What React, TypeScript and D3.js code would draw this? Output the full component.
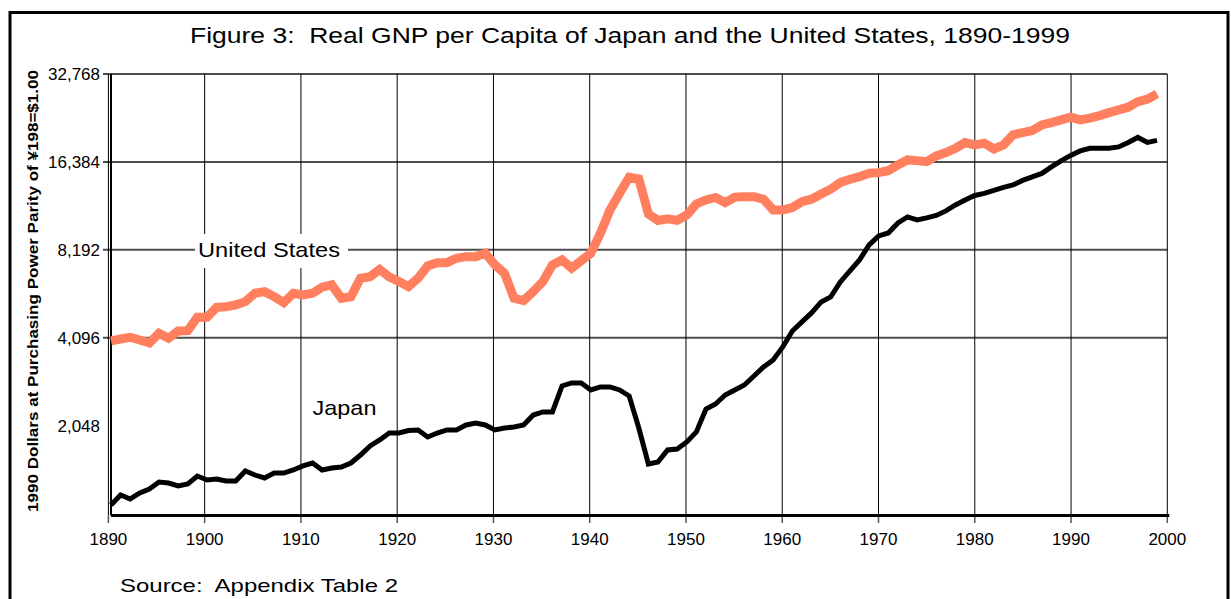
import * as d3 from 'd3';

// Real GNP per capita, 1990 dollars, one value per year from 1890 to 1999
const firstYear = 1890;
const lastYear = 1999;

const usGnp = [
  3994, 4057, 4112, 4026, 3932, 4244, 4080, 4321, 4331, 4815,
  4815, 5209, 5234, 5305, 5445, 5818, 5892, 5665, 5402, 5818,
  5741, 5818, 6100, 6212, 5593, 5665, 6548, 6631, 7020, 6616,
  6386, 6129, 6548, 7216, 7406, 7406, 7668, 7765, 7765, 7975,
  7273, 6812, 5593, 5488, 5892, 6375, 7273, 7565, 7085, 7523,
  7975, 9338, 11222, 12800, 14521, 14328, 10874, 10330, 10453, 10330,
  10788, 11765, 12141, 12383, 11887, 12403, 12462, 12462, 12210, 11222,
  11222, 11427, 11981, 12210, 12729, 13211, 13916, 14293, 14590, 14987,
  15058, 15297, 16000, 16644, 16552, 16423, 17177, 17629, 18252, 19078,
  18735, 18987, 18152, 18735, 20272, 20643, 20972, 21935, 22338, 22818,
  23308, 22818, 23126, 23604, 24169, 24690, 25221, 26357, 26862, 28006,
];

const japanGnp = [
  1096, 1186, 1149, 1205, 1243, 1313, 1303, 1273, 1293, 1377,
  1335, 1345, 1324, 1324, 1433, 1388, 1356, 1410, 1410, 1444,
  1491, 1526, 1444, 1467, 1479, 1526, 1625, 1745, 1830, 1933,
  1933, 1972, 1980, 1873, 1933, 1980, 1980, 2059, 2092, 2059,
  1980, 2011, 2027, 2059, 2228, 2282, 2282, 2801, 2868, 2868,
  2714, 2779, 2779, 2714, 2588, 2011, 1514, 1538, 1691, 1704,
  1801, 1949, 2336, 2430, 2609, 2714, 2823, 3031, 3253, 3438,
  3810, 4321, 4640, 4981, 5433, 5651, 6360, 6937, 7565, 8515,
  9141, 9360, 10128, 10619, 10371, 10536, 10746, 11134, 11672, 12141,
  12580, 12780, 13085, 13399, 13665, 14159, 14556, 14963, 15750, 16514,
  17245, 17868, 18252, 18252, 18252, 18440, 19107, 19876, 19107, 19412,
];

const yTickValues = [2048, 4096, 8192, 16384, 32768];
const yGridValues = [4096, 8192, 16384, 32768];
const xTickValues = [1890, 1900, 1910, 1920, 1930, 1940, 1950, 1960, 1970, 1980, 1990, 2000];

const titleText = 'Figure 3:  Real GNP per Capita of Japan and the United States, 1890-1999';
const yAxisTitle = '1990 Dollars at Purchasing Power Parity of \u00a5198=$1.00';
const sourceText = 'Source:  Appendix Table 2';
const usLabel = 'United States';
const japanLabel = 'Japan';

const W = 1231;
const H = 599;
const font = '"Liberation Sans", Arial, sans-serif';
const usColor = '#ff7f5f';

export default function App() {
  const x = d3.scaleLinear().domain([1890, 2000]).range([108.4, 1167.3]);
  // series are drawn a touch right of the grid, as in the original
  const xLine = d3.scaleLinear().domain([firstYear, lastYear]).range([111, 1157]);
  const y = d3.scaleLog().base(2).domain([1024, 32768]).range([513.6, 74]);

  const line = d3
    .line<number>()
    .x((_, i) => xLine(firstYear + i))
    .y((d) => y(d));

  const fmt = d3.format(',');
  const plotLeft = 111;
  const plotRight = x(2000);
  const plotBottom = 515.5;

  return (
    <svg
      width={W}
      height={H}
      style={{ position: 'absolute', left: 0, top: 0, background: '#fff' }}
      fontFamily={font}
    >
      <rect x={0} y={0} width={W} height={H} fill="#fff" />
      {/* outer frame */}
      <rect x={10} y={12.5} width={1218} height={620} fill="none" stroke="#000" strokeWidth={3} />

      <text x={630} y={43} fontSize={22} textAnchor="middle" style={{ whiteSpace: 'pre' }} textLength={880} lengthAdjust="spacingAndGlyphs">
        {titleText}
      </text>

      {/* horizontal grid */}
      {yGridValues.map((v) => (
        <line key={v} x1={103} x2={plotRight} y1={y(v)} y2={y(v)} stroke="#4d4d4d" strokeWidth={2} />
      ))}
      {/* vertical grid */}
      {xTickValues.map((t) => (
        <line key={t} x1={x(t)} x2={x(t)} y1={y(32768)} y2={plotBottom} stroke="#000" strokeWidth={1} />
      ))}
      {xTickValues.map((t) => (
        <line key={'t' + t} x1={x(t)} x2={x(t)} y1={plotBottom} y2={523} stroke="#555" strokeWidth={1.5} />
      ))}

      {/* series labels, masking the grid */}
      <rect x={195} y={234} width={153} height={34} fill="#fff" />
      <text x={198} y={257} fontSize={21} textLength={142} lengthAdjust="spacingAndGlyphs">
        {usLabel}
      </text>
      <text x={312.5} y={415} fontSize={21} textLength={64} lengthAdjust="spacingAndGlyphs">
        {japanLabel}
      </text>

      {/* axes */}
      <line x1={plotLeft} x2={plotLeft} y1={y(32768)} y2={plotBottom} stroke="#000" strokeWidth={2} />
      <line x1={plotLeft} x2={plotRight + 2} y1={plotBottom} y2={plotBottom} stroke="#000" strokeWidth={3} />

      <path d={line(usGnp) ?? ''} fill="none" stroke={usColor} strokeWidth={9} strokeLinejoin="miter" />
      <path d={line(japanGnp) ?? ''} fill="none" stroke="#000" strokeWidth={5} strokeLinejoin="miter" />

      {yTickValues.map((v) => (
        <text key={v} x={100} y={y(v) + 6} fontSize={17} textAnchor="end">
          {fmt(v)}
        </text>
      ))}
      {xTickValues.map((t) => (
        <text key={'l' + t} x={x(t)} y={545} fontSize={17} textAnchor="middle">
          {t}
        </text>
      ))}

      <text
        transform={`translate(38,${(70 + 512) / 2}) rotate(-90)`}
        fontSize={14}
        fontWeight="bold"
        textAnchor="middle"
        textLength={442}
        lengthAdjust="spacingAndGlyphs"
      >
        {yAxisTitle}
      </text>

      <text x={120} y={592} fontSize={19} style={{ whiteSpace: 'pre' }} textLength={278} lengthAdjust="spacingAndGlyphs">
        {sourceText}
      </text>
    </svg>
  );
}
